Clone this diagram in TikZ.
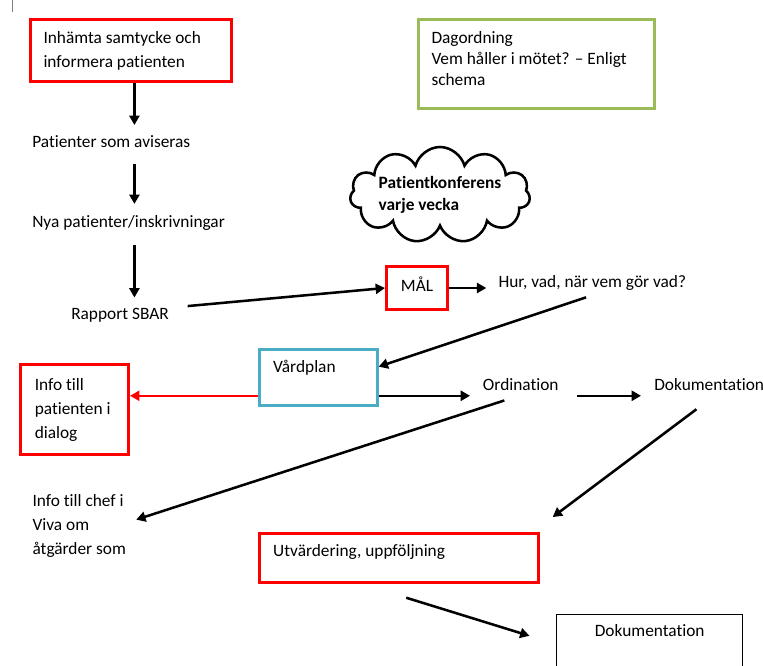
\documentclass[tikz,border=0pt]{standalone}
\usepackage{fontspec}
\setmainfont{Carlito}[Ligatures={NoCommon}]
\usetikzlibrary{arrows.meta,shapes.symbols}

\definecolor{malred}{RGB}{255,0,0}
\definecolor{planblue}{RGB}{75,172,198}
\definecolor{agendagreen}{RGB}{155,187,89}

\tikzset{
  txt/.style={inner sep=0pt, anchor=base west, font=\fontsize{13pt}{18pt}\selectfont},
  box/.style={draw, rectangle, anchor=north west, align=flush left,
    font=\fontsize{13pt}{18pt}\selectfont},
  redbox/.style={box, draw=malred, line width=2.25pt},
  arr/.style={->, line width=1.9pt},
}

\begin{document}
\begin{tikzpicture}[x=0.75pt,y=-0.75pt,>={Triangle[length=7pt,width=7.5pt]}]
\useasboundingbox (0,0) rectangle (763,666);

\draw[gray, line width=0.75pt] (12.3,0) -- (12.3,12.3);

% left column
\node[redbox, inner xsep=9.75pt, text width=131.25pt, minimum height=46.5pt]
  (samtycke) at (29,18) {Inhämta samtycke och\\informera patienten};
\node[txt] (pat) at (32,147.5) {Patienter som aviseras};
\node[txt] (nya) at (32,227.7) {Nya patienter/inskrivningar};
\node[txt] (sbar) at (71,319.3) {Rapport SBAR};

% agenda and conference
\node[box, draw=agendagreen, line width=2.25pt, inner xsep=9.75pt, text width=157.5pt,
  minimum height=66.75pt, text depth=40.4pt, font=\fontsize{13pt}{15.75pt}\selectfont]
  (agenda) at (417,18) {Dagordning\\Vem håller i mötet? – Enligt\\schema};
\node[cloud, draw, line width=1.9pt, cloud puffs=11, cloud ignores aspect,
  minimum width=135pt, minimum height=72pt, inner sep=0pt, align=flush left,
  font=\fontsize{13pt}{16.3pt}\selectfont\bfseries]
  (konferens) at (440,195) {Patientkonferens\\varje vecka};

% goal
\node[redbox, align=center, minimum width=45.75pt, minimum height=32.25pt,
  text depth=6pt] (mal) at (385,265) {MÅL};
\node[txt] (hur) at (498.3,287.7) {Hur, vad, när vem gör vad?};

% care plan row
\node[box, draw=planblue, line width=2pt, inner xsep=10.3pt, text width=67.9pt,
  minimum height=42pt, text depth=16.7pt] (vardplan) at (258,348) {Vårdplan};
\node[redbox, inner xsep=10.7pt, text width=59.6pt, minimum height=67.5pt]
  (info) at (19,363) {Info till\\patienten i\\dialog};
\node[txt] (ordination) at (482.7,390.7) {Ordination};
\node[txt] (dok1) at (654,390.7) {Dokumentation};

% follow up
\node[txt, anchor=north west, align=flush left] (chef) at (32.3,494.4)
  {Info till chef i\\Viva om\\åtgärder som};
\node[redbox, inner xsep=10.3pt, text width=188.65pt, minimum height=36.75pt,
  text depth=11.2pt] (utv) at (258,532) {Utvärdering, uppföljning};
\node[box, anchor=north, align=center, line width=0.75pt, minimum width=139.5pt,
  inner ysep=7pt, text height=9.2pt, text depth=21.2pt]
  (dok2) at (649.7,614) {Dokumentation};

% connectors
\draw[arr, shorten >=7.7pt] (samtycke.-84) -- (samtycke.-84 |- pat.north);
\draw[arr, shorten <=11.8pt, shorten >=8.6pt] (samtycke.-84 |- pat.south) -- (samtycke.-84 |- nya.north);
\draw[arr, shorten <=10.4pt, shorten >=7.7pt] (samtycke.-84 |- nya.south) -- (samtycke.-84 |- sbar.north);
\draw[arr, shorten <=14pt] (sbar.north east) -- (mal.west);
\draw[arr, shorten >=9pt] (mal.east) -- (mal.east -| hur.west);
\draw[arr, shorten <=15.2pt] (hur.-31) -- (vardplan.10);
\draw[arr, malred, line width=1.6pt] (vardplan.197) -- (vardplan.197 -| info.east);
\draw[arr, shorten >=9.5pt] (vardplan.343) -- (vardplan.343 -| ordination.west);
\draw[arr, shorten <=13.7pt, shorten >=9.75pt] (vardplan.343 -| ordination.east) -- (vardplan.343 -| dok1.west);
\draw[arr, shorten <=22.8pt, shorten >=7.9pt] (ordination.-27) -- (chef.4);
\draw[arr, shorten <=22.7pt, shorten >=18.7pt] (dok1.-29) -- (utv.11);
\draw[arr, shorten <=34.8pt, shorten >=21pt] (utv.215) -- (dok2.west);
\end{tikzpicture}
\end{document}
